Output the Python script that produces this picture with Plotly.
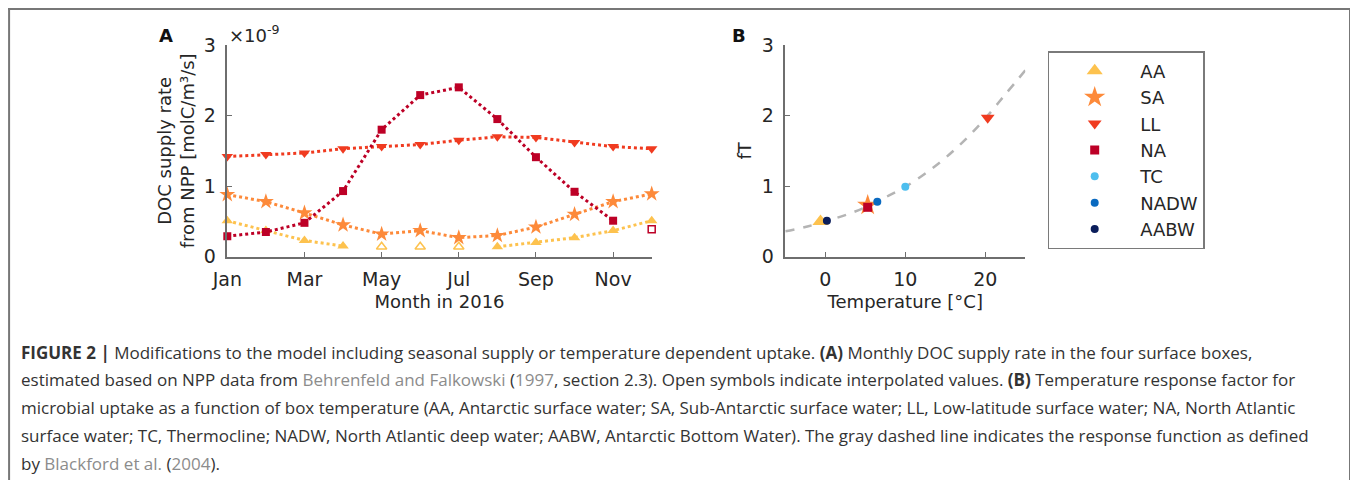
import plotly.graph_objects as go

W, H = 1358, 480
OFF = 8  # page body margin of the html page

# ---------------- Panel A data (DOC supply rate, units of 1e-9 molC/m3/s)
months = [1, 2, 3, 4, 5, 6, 7, 8, 9, 10, 11, 12]
month_tickvals = [1, 3, 5, 7, 9, 11]
month_ticktext = ["Jan", "Mar", "May", "Jul", "Sep", "Nov"]

aa_supply = [0.51, 0.37, 0.23, 0.15, 0.14, 0.14, 0.14, 0.14, 0.20, 0.27, 0.37, 0.51]
aa_interp = [False, False, False, False, True, True, True, False, False, False, False, False]
sa_supply = [0.88, 0.78, 0.62, 0.45, 0.32, 0.37, 0.27, 0.30, 0.42, 0.60, 0.78, 0.89]
sa_interp = [False] * 12
ll_supply = [1.42, 1.45, 1.47, 1.53, 1.56, 1.59, 1.65, 1.70, 1.69, 1.62, 1.56, 1.53]
ll_interp = [False] * 12
na_supply = [0.29, 0.35, 0.48, 0.93, 1.80, 2.29, 2.40, 1.95, 1.41, 0.92, 0.51, 0.39]
na_interp = [False] * 11 + [True]

# ---------------- Panel B data (temperature response factor)
box_names = ["AA", "SA", "LL", "NA", "TC", "NADW", "AABW"]
box_temp = [-0.6, 5.3, 20.3, 5.3, 10.0, 6.5, 0.2]
box_fT = [0.50, 0.73, 1.97, 0.70, 0.99, 0.78, 0.51]

curve_temp = [-5, -2.5, 0, 2.5, 5, 7.5, 10, 12.5, 15, 17.5, 20, 22.5, 25]
curve_fT = [0.36, 0.42, 0.50, 0.59, 0.70, 0.84, 0.99, 1.18, 1.40, 1.66, 1.96, 2.30, 2.64]

colors = {"AA": "#FDC24E", "SA": "#FD8A3A", "LL": "#F03B20", "NA": "#BD0026",
          "TC": "#4DBEEE", "NADW": "#0A6AC0", "AABW": "#0B1E5B"}
symbols = {"AA": "triangle-up", "SA": "star", "LL": "triangle-down", "NA": "square",
           "TC": "circle", "NADW": "circle", "AABW": "circle"}
sizeA = {"AA": 10, "SA": 12, "LL": 10, "NA": 8}
sizeB = {"AA": 14, "SA": 16, "LL": 12, "NA": 9, "TC": 8, "NADW": 8, "AABW": 8}

fig = go.Figure()


def px_x(p):
    return (p - OFF) / W


def px_y(p):
    return 1 - (p - OFF) / H


# Panel A traces
for name, vals, interp in [("AA", aa_supply, aa_interp), ("SA", sa_supply, sa_interp),
                           ("LL", ll_supply, ll_interp), ("NA", na_supply, na_interp)]:
    filled = [None if f else v for v, f in zip(vals, interp)]
    opened = [v if f else None for v, f in zip(vals, interp)]
    c = colors[name]
    fig.add_trace(go.Scatter(
        x=months, y=filled, mode="lines+markers", name=name, showlegend=False,
        line=dict(color=c, width=3, dash="dot"), connectgaps=False,
        marker=dict(symbol=symbols[name], size=sizeA[name], color=c, line=dict(width=0)),
        cliponaxis=False, xaxis="x", yaxis="y"))
    if any(interp):
        fig.add_trace(go.Scatter(
            x=months, y=opened, mode="markers", name=name + " (interpolated)", showlegend=False,
            marker=dict(symbol=symbols[name] + "-open", size=sizeA[name] - 1, color=c,
                        line=dict(width=1.5, color=c)),
            cliponaxis=False, xaxis="x", yaxis="y"))

# Panel B
fig.add_trace(go.Scatter(
    x=curve_temp, y=curve_fT, mode="lines", showlegend=False, name="response",
    line=dict(color="#B4B4B4", width=2.5, dash="dash", shape="spline"),
    cliponaxis=False, xaxis="x2", yaxis="y2"))
for name, t, f in zip(box_names, box_temp, box_fT):
    fig.add_trace(go.Scatter(
        x=[t], y=[f], mode="markers", name=name, showlegend=True,
        marker=dict(symbol=symbols[name], size=sizeB[name], color=colors[name], line=dict(width=0)),
        cliponaxis=False, xaxis="x2", yaxis="y2"))

axis_common = dict(showline=True, linecolor="#6E6E6E", linewidth=1.5, ticks="inside",
                   ticklen=5, tickwidth=1.2, tickcolor="#6E6E6E", showgrid=False,
                   zeroline=False, automargin=False,
                   tickfont=dict(family="DejaVu Sans", size=19, color="#262626"),
                   title_font=dict(family="DejaVu Sans", size=18, color="#262626"))

ydom = [px_y(256.7), px_y(45)]
fig.update_layout(
    width=W, height=H, margin=dict(l=0, r=0, t=0, b=0, autoexpand=False),
    paper_bgcolor="white", plot_bgcolor="white",
    xaxis=dict(domain=[px_x(227.3), px_x(651.7)], range=[1, 12], tickvals=month_tickvals,
               ticktext=month_ticktext, anchor="y", ticklabelstandoff=5,
               title=dict(text="Month in 2016", standoff=6), **axis_common),
    yaxis=dict(domain=ydom, range=[0, 3], tickvals=[0, 1, 2, 3], anchor="x",
               ticklabelstandoff=6,
               title=dict(text="DOC supply rate<br>from NPP [molC/m³/s]", standoff=4),
               **axis_common),
    xaxis2=dict(domain=[px_x(785.3), px_x(1025.3)], range=[-5, 25], tickvals=[0, 10, 20],
                anchor="y2", ticklabelstandoff=5,
                title=dict(text="Temperature [°C]", standoff=6), **axis_common),
    yaxis2=dict(domain=ydom, range=[0, 3], tickvals=[0, 1, 2, 3], anchor="x2",
                ticklabelstandoff=6,
                title=dict(text="fT", standoff=5), **axis_common),
    legend=dict(x=px_x(1047.7), y=px_y(51), xanchor="left", yanchor="top",
                bordercolor="#7A7A7A", borderwidth=1.5, bgcolor="white",
                font=dict(family="DejaVu Sans", size=18, color="#262626"),
                itemwidth=81, tracegroupgap=0),
)

ann = []
ann.append(dict(text="<b>A</b>", x=px_x(165.5), y=px_y(35), xref="paper", yref="paper",
                xanchor="center", yanchor="middle", showarrow=False,
                font=dict(family="DejaVu Sans", size=18, color="#111")))
ann.append(dict(text="<b>B</b>", x=px_x(738.5), y=px_y(35), xref="paper", yref="paper",
                xanchor="center", yanchor="middle", showarrow=False,
                font=dict(family="DejaVu Sans", size=18, color="#111")))
ann.append(dict(text="×10<sup>-9</sup>", x=px_x(227), y=px_y(34), xref="paper", yref="paper",
                xanchor="left", yanchor="middle", showarrow=False,
                font=dict(family="DejaVu Sans", size=18, color="#262626")))

link = "#8C8C8C"
cap_lines = [
    "<b>FIGURE 2 |</b> Modifications to the model including seasonal supply or temperature dependent uptake. <b>(A)</b> Monthly DOC supply rate in the four surface boxes,",
    f"estimated based on NPP data from <span style='color:{link}'>Behrenfeld and Falkowski</span> (<span style='color:{link}'>1997</span>, section 2.3). Open symbols indicate interpolated values. <b>(B)</b> Temperature response factor for",
    "microbial uptake as a function of box temperature (AA, Antarctic surface water; SA, Sub-Antarctic surface water; LL, Low-latitude surface water; NA, North Atlantic",
    "surface water; TC, Thermocline; NADW, North Atlantic deep water; AABW, Antarctic Bottom Water). The gray dashed line indicates the response function as defined",
    f"by <span style='color:{link}'>Blackford et al.</span> (<span style='color:{link}'>2004</span>).",
]
cap_y = [352, 379, 407, 435, 463]
for t, yy in zip(cap_lines, cap_y):
    ann.append(dict(text=t, x=px_x(19), y=px_y(yy), xref="paper", yref="paper",
                    xanchor="left", yanchor="middle", showarrow=False, align="left",
                    font=dict(family="Open Sans", size=17, color="#333333")))
fig.update_layout(annotations=ann)

# outer frame (left, top, right edges)
frame = dict(color="#777777", width=2)
fig.add_shape(type="line", xref="paper", yref="paper", x0=0.0008, x1=0.0008, y0=0, y1=1, line=frame)
fig.add_shape(type="line", xref="paper", yref="paper", x0=0, x1=px_x(1350), y0=0.998, y1=0.998, line=frame)
fig.add_shape(type="line", xref="paper", yref="paper", x0=px_x(1350), x1=px_x(1350), y0=0, y1=0.998, line=frame)

fig.write_html("out.html")
